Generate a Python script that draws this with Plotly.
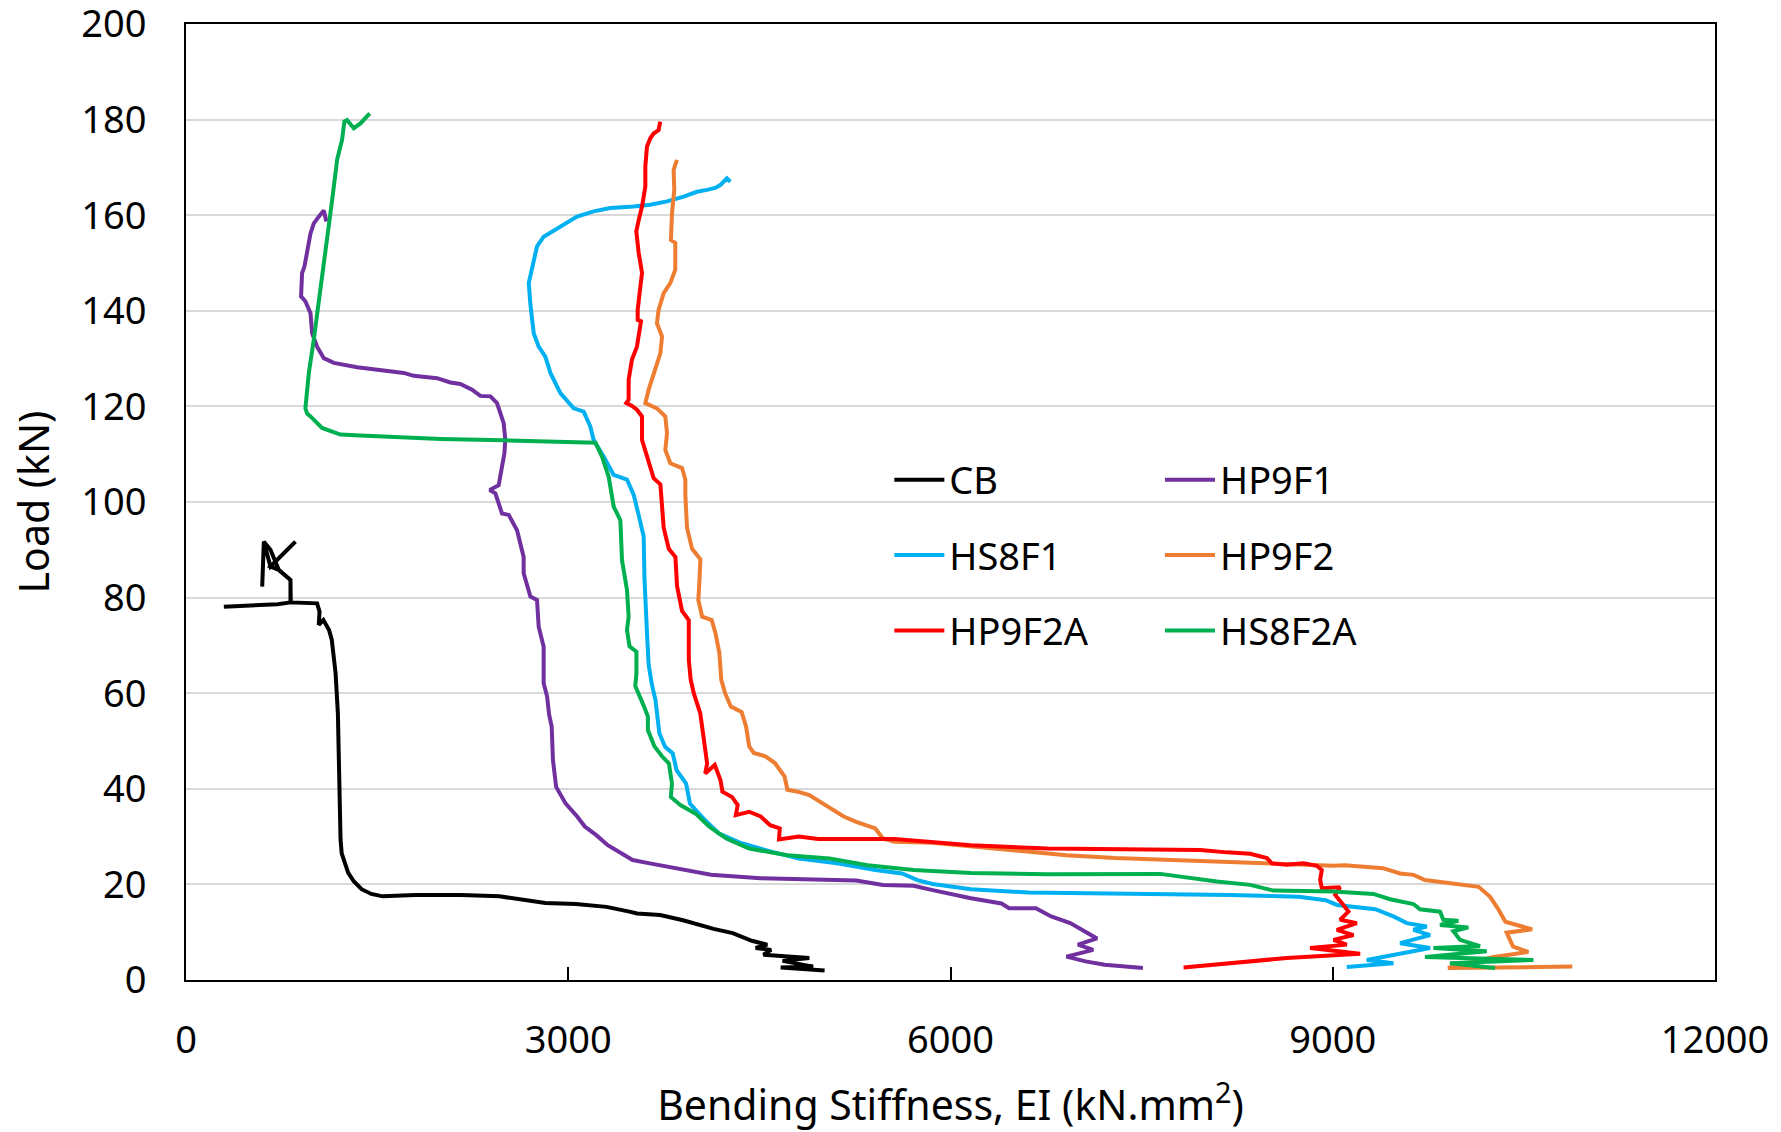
import plotly.graph_objects as go

# ---------------- data ----------------
cb_ei = [297, 400, 500, 600, 720, 820, 820, 728, 663, 611, 598, 611, 663, 859, 663, 728, 820, 822,
         1029, 1048, 1042, 1078, 1123, 1144, 1174, 1192, 1198, 1207, 1213, 1222, 1243, 1273, 1318,
         1378, 1454, 1544, 1799, 2159, 2460, 2700, 2820, 3060, 3300, 3480, 3540, 3721, 3901, 4141,
         4291, 4441, 4562, 4471, 4592, 4532, 4892, 4682, 4922, 4667, 5012]
cb_load = [78.1, 78.2, 78.3, 78.4, 78.6, 79.0, 83.7, 85.8, 90.0, 91.7, 82.3, 91.7, 86.5, 91.7, 86.5,
           85.8, 83.7, 79.0, 78.8, 77.1, 74.3, 75.3, 73.2, 71.2, 64.2, 55.8, 45.4, 34.9, 29.3, 26.5,
           24.5, 22.4, 20.6, 19.0, 18.0, 17.5, 17.8, 17.8, 17.5, 16.6, 16.1, 15.9, 15.3, 14.3, 13.9,
           13.6, 12.5, 10.7, 9.8, 8.2, 7.4, 6.7, 6.3, 5.3, 4.6, 4.0, 2.8, 2.6, 2.0]

hp9f1_ei = [1102, 1081, 1042, 1003, 977, 956, 930, 911, 906, 903, 937, 977, 990, 1029, 1081, 1160,
            1343, 1552, 1709, 1787, 1970, 2075, 2153, 2245, 2310, 2389, 2441, 2467, 2493, 2506, 2499,
            2480, 2467, 2454, 2384, 2428, 2480, 2533, 2598, 2650, 2650, 2703, 2755, 2768, 2807, 2807,
            2834, 2850, 2870, 2880, 2905, 2980, 3070, 3130, 3220, 3310, 3400, 3505, 3640, 3850, 4120,
            4510, 4960, 5260, 5470, 5710, 5860, 6010, 6160, 6400, 6460, 6670, 6790, 6940, 7030, 7150,
            7000, 7120, 6910, 7060, 7210, 7510]
hp9f1_load = [158.7, 161.0, 159.7, 158.3, 156.2, 153.5, 149.3, 147.9, 145.1, 143.0, 142.0, 139.5,
              135.3, 132.5, 130.1, 129.1, 128.2, 127.5, 127.0, 126.4, 125.9, 125.0, 124.7, 123.5,
              122.2, 122.1, 120.7, 118.6, 116.5, 113.0, 110.2, 107.4, 104.7, 103.5, 102.5, 101.8,
              97.6, 97.3, 94.1, 88.5, 85.1, 80.2, 79.5, 73.9, 69.7, 62.1, 59.3, 55.5, 53.0, 46.0,
              40.4, 36.9, 34.2, 32.1, 30.3, 28.2, 26.8, 25.1, 24.4, 23.3, 22.0, 21.3, 21.0, 20.8,
              19.9, 19.7, 18.8, 17.9, 17.1, 16.0, 15.0, 15.0, 13.3, 11.9, 10.5, 8.7, 7.4, 6.3, 4.9,
              3.9, 3.2, 2.5]

hs8f1_ei = [4272, 4245, 4193, 4154, 4089, 4010, 3906, 3775, 3644, 3513, 3330, 3199, 3069, 2938, 2807,
            2755, 2716, 2690, 2703, 2729, 2768, 2820, 2860, 2938, 3043, 3121, 3173, 3199, 3278, 3356,
            3461, 3514, 3553, 3592, 3598, 3605, 3619, 3631, 3655, 3685, 3715, 3760, 3820, 3850, 3925,
            3955, 4060, 4180, 4360, 4600, 4810, 5110, 5410, 5620, 5740, 5860, 6160, 6610, 7292, 8193,
            8733, 8944, 9034, 9136, 9334, 9476, 9581, 9738, 9633, 9764, 9529, 9764, 9529, 9267, 9476,
            9110]
hs8f1_load = [167.0, 167.7, 166.3, 165.7, 165.3, 164.9, 163.9, 162.9, 162.2, 161.8, 161.5, 160.8,
              159.7, 157.6, 155.5, 153.5, 149.3, 145.8, 141.3, 135.3, 132.5, 130.4, 127.0, 122.8,
              119.6, 118.9, 115.8, 113.0, 109.5, 105.7, 104.7, 101.5, 97.2, 92.8, 84.1, 78.0, 72.0,
              66.0, 62.0, 58.5, 51.6, 48.8, 47.4, 43.9, 41.1, 36.9, 33.8, 30.7, 28.6, 26.8, 25.4,
              24.4, 23.0, 22.3, 20.9, 20.1, 19.0, 18.3, 18.1, 17.8, 17.4, 16.7, 15.7, 15.4, 14.8,
              13.3, 11.9, 11.2, 10.5, 9.4, 7.7, 6.7, 5.6, 4.2, 3.5, 2.7]

hp9f2_ei = [3853, 3827, 3832, 3814, 3806, 3840, 3840, 3801, 3749, 3709, 3696, 3736, 3723, 3670, 3631,
            3605, 3696, 3762, 3775, 3762, 3801, 3893, 3919, 3919, 3932, 3972, 4037, 4030, 4021, 4051,
            4126, 4156, 4186, 4201, 4231, 4276, 4360, 4396, 4420, 4456, 4547, 4622, 4697, 4720, 4802,
            4892, 4960, 5042, 5162, 5260, 5410, 5470, 5560, 5860, 6160, 6460, 6910, 7292, 7960, 8493,
            9006, 9094, 9394, 9529, 9634, 9724, 9934, 10145, 10235, 10295, 10355, 10565, 10365, 10415,
            10535, 10265, 9904, 10880]
hp9f2_load = [171.6, 169.5, 165.3, 160.4, 154.8, 154.2, 148.6, 145.8, 143.7, 140.2, 137.4, 134.6,
              131.1, 127.0, 123.5, 120.7, 119.6, 117.9, 114.4, 110.9, 108.1, 107.1, 104.7, 101.5,
              94.6, 90.2, 88.0, 83.7, 79.5, 76.0, 75.3, 72.5, 68.4, 62.8, 60.0, 57.2, 56.1, 53.0,
              48.9, 47.5, 46.8, 45.4, 42.6, 39.8, 39.4, 38.7, 37.6, 36.3, 34.2, 33.1, 31.7, 29.6,
              28.9, 28.7, 27.9, 27.2, 26.1, 25.5, 24.8, 24.4, 23.9, 24.0, 23.4, 22.3, 22.0, 20.9,
              20.2, 19.5, 17.4, 15.0, 12.2, 10.6, 9.9, 7.0, 5.9, 4.8, 2.5, 2.8]

hp9f2a_ei = [3722, 3709, 3670, 3644, 3618, 3605, 3605, 3579, 3553, 3534, 3553, 3579, 3560, 3545, 3545,
             3571, 3539, 3500, 3474, 3474, 3456, 3500, 3539, 3579, 3579, 3618, 3644, 3670, 3723, 3749,
             3789, 3841, 3854, 3893, 3946, 3946, 3961, 3985, 4036, 4066, 4090, 4075, 4150, 4195, 4210,
             4285, 4330, 4315, 4420, 4510, 4585, 4660, 4654, 4810, 4960, 5560, 6160, 6760, 7564, 7960,
             8169, 8352, 8483, 8522, 8639, 8770, 8875, 8914, 8901, 8914, 9058, 9019, 9071, 9123, 9058,
             9189, 9032, 9163, 9006, 9110, 8822, 9006, 9215, 8639, 8352, 8090, 7829]
hp9f2a_load = [179.6, 177.8, 177.1, 176.1, 174.4, 170.2, 166.0, 161.8, 159.0, 156.6, 152.1, 147.9,
               143.7, 140.2, 138.1, 137.8, 132.5, 129.8, 125.6, 121.4, 120.7, 120.1, 119.3, 117.9,
               113.0, 109.5, 106.8, 105.0, 103.7, 94.6, 90.2, 88.5, 82.4, 77.2, 75.3, 67.0, 62.8,
               60.0, 55.8, 50.2, 45.3, 43.2, 45.0, 41.8, 39.4, 38.3, 36.6, 34.5, 35.2, 34.2, 32.4,
               31.7, 29.4, 30.0, 29.5, 29.5, 28.2, 27.5, 27.3, 27.2, 26.7, 26.4, 25.5, 24.4, 24.1,
               24.4, 23.9, 23.0, 21.0, 19.2, 19.4, 17.8, 16.1, 14.3, 12.6, 11.9, 10.5, 9.4, 8.4, 7.4,
               6.7, 6.2, 5.5, 4.6, 3.9, 3.2, 2.6]

hs8f2a_ei = [1442, 1408, 1369, 1317, 1264, 1243, 1225, 1199, 1186, 1147, 1068, 1003, 964, 937, 951,
             977, 1068, 1212, 1369, 1657, 2000, 2493, 2900, 3213, 3265, 3317, 3357, 3409, 3422, 3461,
             3474, 3461, 3481, 3535, 3535, 3526, 3595, 3625, 3625, 3676, 3736, 3790, 3814, 3805, 3880,
             4000, 4105, 4240, 4420, 4720, 5050, 5350, 5710, 6160, 6760, 7175, 7646, 8090, 8352, 8535,
             9006, 9319, 9450, 9633, 9685, 9842, 9868, 9986, 9842, 10064, 9947, 9999, 10156, 9790,
             10208, 9724, 10575, 9920, 10274]
hs8f2a_load = [181.3, 180.3, 179.2, 178.2, 179.9, 179.6, 175.8, 173.0, 171.6, 163.2, 146.5, 134.0,
               127.0, 119.6, 118.5, 117.9, 115.5, 114.1, 113.9, 113.5, 113.2, 112.9, 112.6, 112.4,
               109.5, 105.3, 99.0, 96.2, 87.8, 81.6, 76.0, 73.2, 69.8, 68.7, 64.1, 61.5, 57.2, 55.1,
               52.3, 48.9, 46.8, 45.3, 41.1, 38.3, 36.6, 34.8, 32.1, 29.6, 27.5, 26.1, 25.4, 24.0,
               23.0, 22.4, 22.1, 22.2, 22.2, 20.6, 19.9, 18.7, 18.5, 18.0, 16.9, 15.9, 14.8, 14.3,
               12.6, 12.4, 11.5, 11.0, 10.2, 8.4, 7.1, 6.7, 6.0, 4.8, 4.2, 3.5, 2.5]

x_ticks = [0, 3000, 6000, 9000, 12000]
y_ticks = [0, 20, 40, 60, 80, 100, 120, 140, 160, 180, 200]

# ---------------- figure ----------------
FONT = "Noto Sans"
series = [
    ("CB", cb_ei, cb_load, "#000000", "legend"),
    ("HP9F1", hp9f1_ei, hp9f1_load, "#7030A0", "legend2"),
    ("HS8F1", hs8f1_ei, hs8f1_load, "#00B0F0", "legend"),
    ("HP9F2", hp9f2_ei, hp9f2_load, "#ED7D31", "legend2"),
    ("HP9F2A", hp9f2a_ei, hp9f2a_load, "#FF0000", "legend"),
    ("HS8F2A", hs8f2a_ei, hs8f2a_load, "#00B050", "legend2"),
]

fig = go.Figure()
for name, xs, ys, col, lg in series:
    fig.add_trace(go.Scatter(x=xs, y=ys, mode="lines", name=name, legend=lg,
                             legendgroup=name,
                             line=dict(color=col, width=4)))

legend_common = dict(font=dict(family=FONT, size=38, color="#000000"),
                     bgcolor="rgba(0,0,0,0)", borderwidth=0,
                     traceorder="grouped", tracegroupgap=23, itemwidth=50,
                     xanchor="left", yanchor="top")

fig.update_layout(
    width=1781, height=1132,
    margin=dict(l=186, r=66, t=24, b=152, autoexpand=False),
    paper_bgcolor="white", plot_bgcolor="white",
    font=dict(family=FONT, size=38, color="#000000"),
    showlegend=True,
    legend=dict(x=0.460, y=0.556, **legend_common),
    legend2=dict(x=0.637, y=0.556, **legend_common),
    xaxis=dict(range=[0, 12000], tickvals=x_ticks, tickformat="d",
               automargin=False,
               showgrid=False, zeroline=False,
               showline=True, linecolor="#000000", linewidth=2, mirror=True,
               ticks="inside", ticklen=13, tickwidth=1.5, tickcolor="#000000",
               tickfont=dict(family=FONT, size=38, color="#000000"),
               ticklabelstandoff=25, ticklabeloverflow="allow",
               title=dict(text="Bending Stiffness, EI (kN.mm<sup>2</sup>)",
                          font=dict(family=FONT, size=41, color="#000000"),
                          standoff=30)),
    yaxis=dict(range=[0, 200.001], tickvals=y_ticks,
               automargin=False,
               showgrid=True, gridcolor="#D9D9D9", gridwidth=1.5,
               zeroline=False,
               showline=True, linecolor="#000000", linewidth=2, mirror=True,
               ticks="", tickfont=dict(family=FONT, size=38, color="#000000"),
               ticklabelstandoff=30, ticklabeloverflow="allow",
               title=dict(text="Load (kN)",
                          font=dict(family=FONT, size=41, color="#000000"),
                          standoff=19)),
)

fig.write_html("out.html")
